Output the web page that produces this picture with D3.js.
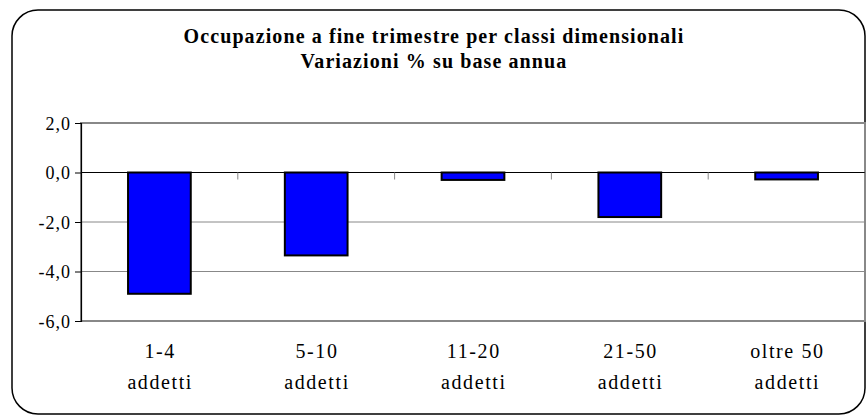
<!DOCTYPE html>
<html><head><meta charset="utf-8">
<script src="https://cdn.jsdelivr.net/npm/d3@7"></script>
<style>
body{margin:0;background:#fff}
svg{display:block}
</style>
</head><body>
<svg id="c" width="868" height="419"></svg>
<script>
const categories = [["1-4","addetti"],["5-10","addetti"],["11-20","addetti"],["21-50","addetti"],["oltre 50","addetti"]];
const values = [-4.9, -3.35, -0.3, -1.8, -0.28];
const yTicks = [2, 0, -2, -4, -6];
const titleLines = ["Occupazione a fine trimestre per classi dimensionali", "Variazioni % su base annua"];

const svg = d3.select("#c");
const font = "Liberation Serif";
const L = 81, R = 865, T = 123, B = 321;

svg.append("rect").attr("x", 12).attr("y", 10).attr("width", 853).attr("height", 404)
  .attr("rx", 26).attr("ry", 26).attr("fill", "#fff").attr("stroke", "#000").attr("stroke-width", 1.5);

titleLines.forEach((t, i) => {
  svg.append("text").attr("x", 434).attr("y", 43 + i * 25).attr("text-anchor", "middle")
    .attr("font-family", font).attr("font-weight", "bold").attr("font-size", 20)
    .attr("letter-spacing", 1.1).text(t);
});

const x = d3.scaleBand().domain(d3.range(categories.length)).range([L, R]).paddingInner(0.6).paddingOuter(0.3);
const y = d3.scaleLinear().domain([-6, 2]).range([B, T]);

// gridlines
svg.append("g").selectAll("line").data(yTicks.filter(v => v !== 0 && v !== -6 && v !== 2)).join("line")
  .attr("x1", L).attr("x2", R).attr("y1", d => y(d)).attr("y2", d => y(d))
  .attr("stroke", "#888").attr("stroke-width", 1);

// plot border
svg.append("rect").attr("x", L).attr("y", T).attr("width", R - L).attr("height", B - T)
  .attr("fill", "none").attr("stroke", "#888").attr("stroke-width", 2);

// y axis
const ya = svg.append("g").attr("transform", `translate(${L},0)`)
  .call(d3.axisLeft(y).tickValues(yTicks).tickSize(6).tickPadding(4).tickFormat(d => d3.format(".1f")(d).replace(".", ",").replace("−", "-")));
ya.attr("font-family", font).attr("font-size", 18);
ya.select(".domain").attr("stroke", "#000").attr("stroke-width", 1.2);
ya.selectAll(".tick line").attr("stroke", "#000");
ya.selectAll(".tick text").attr("letter-spacing", 1.0).attr("fill", "#000").attr("dy", "0.36em");

// bars
svg.append("g").selectAll("rect").data(values).join("rect")
  .attr("x", (d, i) => x(i)).attr("width", x.bandwidth())
  .attr("y", d => y(Math.max(0, d))).attr("height", d => Math.abs(y(d) - y(0)))
  .attr("fill", "#0000ff").attr("stroke", "#000").attr("stroke-width", 2);

// zero line
svg.append("line").attr("x1", L).attr("x2", R).attr("y1", y(0)).attr("y2", y(0)).attr("stroke", "#000").attr("stroke-width", 1.2);

// category ticks on zero line
const step = x.step();
svg.append("g").selectAll("line").data(d3.range(1, categories.length + 1)).join("line")
  .attr("x1", d => L + d * step).attr("x2", d => L + d * step)
  .attr("y1", y(0)).attr("y2", y(0) + 7).attr("stroke", "#888").attr("stroke-width", 1);

// category labels
const cl = svg.append("g").selectAll("text").data(categories).join("text")
  .attr("font-family", font).attr("font-size", 20).attr("letter-spacing", 1.6).attr("text-anchor", "middle");
cl.each(function(d, i) {
  const t = d3.select(this);
  d.forEach((s, j) => t.append("tspan").attr("x", x(i) + x.bandwidth() / 2 + 0.8).attr("y", 358 + j * 31).text(s));
});
</script>
</body></html>
